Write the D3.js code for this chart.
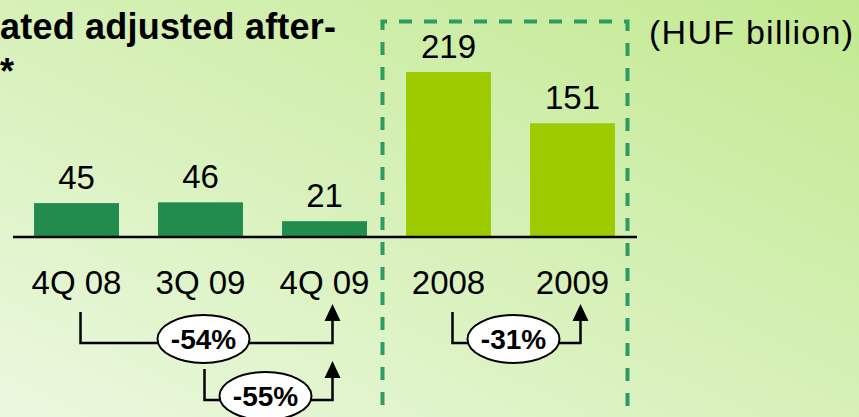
<!DOCTYPE html>
<html lang="en">
    <head>
        <meta charset="utf-8">
        <title>After-tax profit</title>
        <script type="text/javascript" src="https://cdn.jsdelivr.net/npm/d3@7/dist/d3.min.js"></script>
        <style>
            html, body { margin: 0; padding: 0; overflow: hidden; }
            svg { display: block; font-family: "Liberation Sans", Arial, sans-serif; }
        </style>
    </head>
    <body>
        <script type="text/javascript">

            var categories = ["4Q 08", "3Q 09", "4Q 09", "2008", "2009"];
            var values = [45, 46, 21, 219, 151];
            var groups = ["quarter", "quarter", "quarter", "year", "year"];
            var changeFrom = ["4Q 08", "3Q 09", "2008"];
            var changeTo = ["4Q 09", "4Q 09", "2009"];
            var changeLabels = ["-54%", "-55%", "-31%"];
            var changeLevel = [0, 1, 0];

            var w = 859;
            var h = 417;
            var baseY = 237;

            var svg = d3.select("body")
                .append("svg")
                .attr("width", w)
                .attr("height", h);

            // background gradient, light bottom-left to green top-right
            var grad = svg.append("defs").append("linearGradient")
                .attr("id", "bg")
                .attr("x1", 0).attr("y1", 1)
                .attr("x2", 1).attr("y2", 0);
            grad.append("stop").attr("offset", "0%").attr("stop-color", "#ebf8df");
            grad.append("stop").attr("offset", "100%").attr("stop-color", "#c2e991");

            svg.append("rect")
                .attr("width", w)
                .attr("height", h)
                .attr("fill", "url(#bg)");

            var xScale = d3.scaleBand()
                .domain(categories)
                .range([14.5, 634.5])
                .paddingInner(0.315)
                .paddingOuter(0.1575);

            var yScale = d3.scaleLinear()
                .domain([0, 219])
                .range([baseY, 72]);

            var colors = { quarter: "#228b4e", year: "#9dcb00" };

            // dashed frame round the yearly bars
            var frame = svg.append("g")
                .attr("fill", "none")
                .attr("stroke", "#2f9a62")
                .attr("stroke-width", 4)
                .attr("stroke-dasharray", "13,12");
            frame.append("path")
                .attr("d", "M382.5,430 V21.5 H627.5 V430");

            svg.selectAll("rect.bar")
                .data(categories)
                .enter()
                .append("rect")
                .attr("class", "bar")
                .attr("x", function(d) { return xScale(d); })
                .attr("width", xScale.bandwidth())
                .attr("y", function(d, i) { return yScale(values[i]); })
                .attr("height", function(d, i) { return baseY - yScale(values[i]); })
                .attr("fill", function(d, i) { return colors[groups[i]]; });

            svg.selectAll("text.val")
                .data(categories)
                .enter()
                .append("text")
                .attr("class", "val")
                .attr("x", function(d) { return xScale(d) + xScale.bandwidth() / 2; })
                .attr("y", function(d, i) { return yScale(values[i]) - 14; })
                .attr("text-anchor", "middle")
                .attr("font-size", 33)
                .text(function(d, i) { return values[i]; });

            // x axis: baseline and category labels
            var xAxis = d3.axisBottom(xScale).tickSize(0).tickPadding(0);
            var axisG = svg.append("g")
                .attr("transform", "translate(0," + baseY + ")")
                .call(xAxis);
            axisG.select(".domain").remove();
            axisG.append("line")
                .attr("x1", 13).attr("x2", 637)
                .attr("stroke", "#000")
                .attr("stroke-width", 2.5);
            axisG.selectAll(".tick text")
                .attr("font-family", "'Liberation Sans', Arial, sans-serif")
                .attr("font-size", 33)
                .attr("fill", "#000")
                .attr("dy", 0)
                .attr("y", 57);

            // change brackets
            var brackets = svg.selectAll("g.change")
                .data(changeLabels)
                .enter()
                .append("g")
                .attr("class", "change");

            brackets.each(function(lab, i) {
                var g = d3.select(this);
                var bw = xScale.bandwidth() / 2;
                var lx = xScale(changeFrom[i]) + bw + 4;
                var rx = xScale(changeTo[i]) + bw + 8;
                var ly = 343 + changeLevel[i] * 57;
                g.append("path")
                    .attr("d", "M" + lx + "," + (ly - 31) + " V" + ly + " H" + rx + " V" + (ly - 24))
                    .attr("fill", "none")
                    .attr("stroke", "#000")
                    .attr("stroke-width", 2.5);
                g.append("path")
                    .attr("d", "M" + rx + "," + (ly - 39) + " L" + (rx + 8) + "," + (ly - 22) + " L" + (rx - 8) + "," + (ly - 22) + " Z")
                    .attr("fill", "#000");
                var cx = (lx + rx) / 2 - 3;
                g.append("ellipse")
                    .attr("cx", cx)
                    .attr("cy", ly - 4)
                    .attr("rx", 46)
                    .attr("ry", 24)
                    .attr("fill", "#fff")
                    .attr("stroke", "#000")
                    .attr("stroke-width", 2);
                g.append("text")
                    .attr("x", cx)
                    .attr("y", ly + 6)
                    .attr("text-anchor", "middle")
                    .attr("font-size", 28)
                    .attr("font-weight", "bold")
                    .text(lab);
            });

            // title (cut at the left edge) and unit
            svg.append("text")
                .attr("x", 0)
                .attr("y", 39)
                .attr("font-size", 36)
                .attr("font-weight", "bold")
                .attr("textLength", 336)
                .text("ated adjusted after-");
            svg.append("text")
                .attr("x", 0)
                .attr("y", 84)
                .attr("font-size", 36)
                .attr("font-weight", "bold")
                .text("*");
            svg.append("text")
                .attr("x", 649)
                .attr("y", 44)
                .attr("font-size", 34)
                .attr("textLength", 204)
                .text("(HUF billion)");

        </script>
    </body>
</html>
